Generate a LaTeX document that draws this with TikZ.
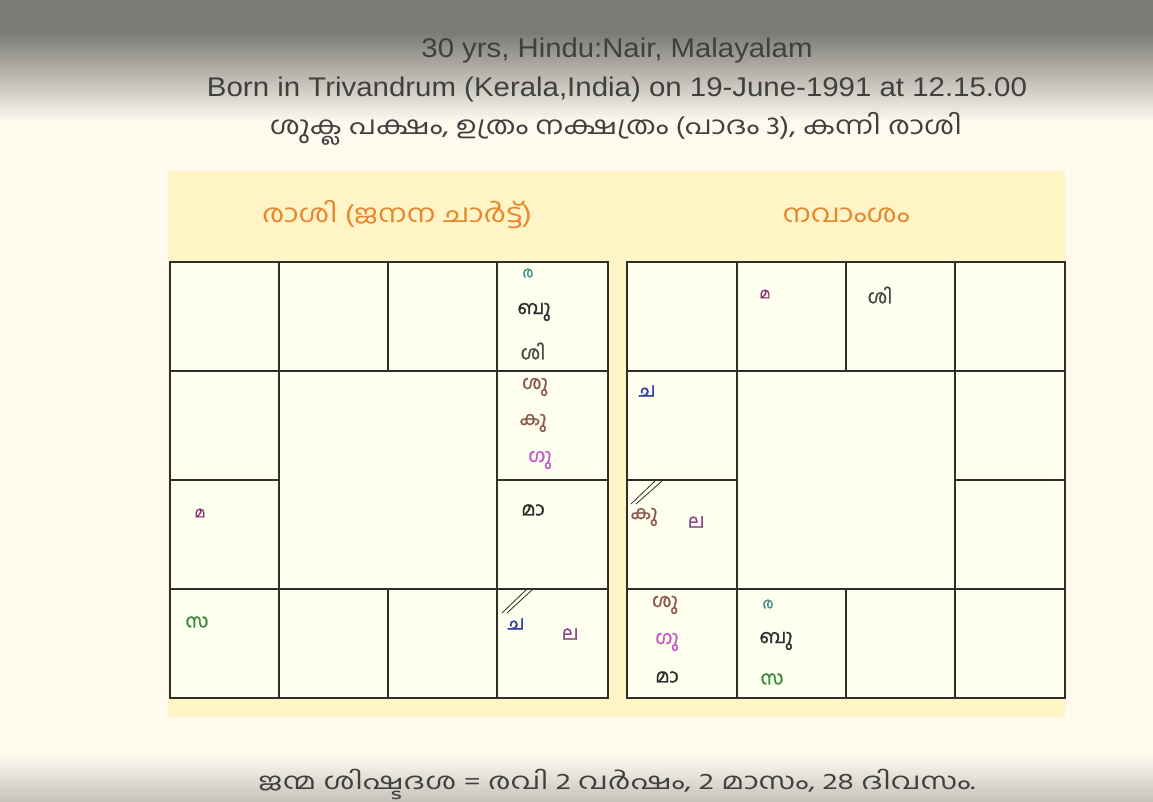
\documentclass[tikz,border=0pt]{standalone}
\usepackage{fontspec}
\setmainfont{Liberation Sans}
\newfontfamily\mal[Script=Malayalam]{Hind Kochi}
\newfontfamily\malb[Script=Malayalam,FakeBold=1.2]{Hind Kochi}
\newfontfamily\hdr[FakeStretch=0.85]{Liberation Sans}
\definecolor{bg}{HTML}{FEFAEE}
\definecolor{topgray}{HTML}{7B7A75}
\definecolor{botgray}{HTML}{C5C3BC}
\definecolor{panel}{HTML}{FFF4C6}
\definecolor{cellfill}{HTML}{FFFFF0}
\definecolor{gridc}{HTML}{2E2E2A}
\definecolor{txt}{HTML}{404040}
\definecolor{orng}{HTML}{E8862C}
\definecolor{cteal}{HTML}{3E8C84}
\definecolor{cdark}{HTML}{2E2E2E}
\definecolor{cgray}{HTML}{4A4A4A}
\definecolor{cbrown}{HTML}{8C5A4C}
\definecolor{cpink}{HTML}{C65AC6}
\definecolor{cpurple}{HTML}{8A2E6E}
\definecolor{cgreen}{HTML}{3C8A3C}
\definecolor{cblue}{HTML}{3444A4}
\definecolor{clav}{HTML}{8A4684}
\tikzset{
  gridline/.style={draw=gridc, line width=1.8pt},
  hdrtext/.style={inner sep=0pt, anchor=base, text=txt},
  title/.style={inner sep=0pt, anchor=center, text=orng, font=\mal\fontsize{25}{28}\selectfont},
  planet/.style={inner sep=0pt, anchor=center, font=\malb\fontsize{19}{22}\selectfont},
  small/.style={inner sep=0pt, anchor=center, font=\malb\fontsize{15}{17}\selectfont},
  slash/.style={draw=gridc, line width=0.8pt},
}
\begin{document}
\begin{tikzpicture}[x=1pt,y=-1pt]
\useasboundingbox (0,0) rectangle (1153,801);
\fill[bg] (0,0) rectangle (1153,801);
\fill[topgray] (0,0) rectangle (1153,32);
\shade[top color=topgray, bottom color=bg] (0,32) rectangle (1153,122);
\shade[top color=bg, bottom color=botgray] (0,756) rectangle (1153,801);
% header texts
\node[hdrtext, font=\hdr\fontsize{27}{30}\selectfont] (l1) at (617,57) {\resizebox{391pt}{\height}{30 yrs, Hindu:Nair, Malayalam}};
\node[hdrtext, font=\hdr\fontsize{27}{30}\selectfont] (l2) at (617,96) {\resizebox{820pt}{\height}{Born in Trivandrum (Kerala,India) on 19-June-1991 at 12.15.00}};
\node[hdrtext, font=\mal\fontsize{25}{28}\selectfont] (l3) at (616,134) {\resizebox{692pt}{\height}{ശുക്ല പക്ഷം, ഉത്രം നക്ഷത്രം (പാദം 3), കന്നി രാശി}};
% panel
\fill[panel] (168,171) rectangle (1065,717);
\node[title] (t1) at (397,215) {\resizebox{270pt}{\height}{രാശി (ജനന ചാർട്ട്)}};
\node[title] (t2) at (846,215) {\resizebox{127pt}{\height}{നവാംശം}};
% left chart
\begin{scope}
\fill[cellfill] (170,262) rectangle (608,698);
\draw[gridline] (170,262) rectangle (608,698);
\draw[gridline] (170,371) -- (608,371);
\draw[gridline] (170,589) -- (608,589);
\draw[gridline] (170,480) -- (279,480);
\draw[gridline] (497,480) -- (608,480);
\draw[gridline] (279,262) -- (279,698);
\draw[gridline] (497,262) -- (497,698);
\draw[gridline] (388,262) -- (388,371);
\draw[gridline] (388,589) -- (388,698);
\end{scope}
% right chart
\begin{scope}
\fill[cellfill] (627,262) rectangle (1065,698);
\draw[gridline] (627,262) rectangle (1065,698);
\draw[gridline] (627,371) -- (1065,371);
\draw[gridline] (627,589) -- (1065,589);
\draw[gridline] (627,480) -- (737,480);
\draw[gridline] (955,480) -- (1065,480);
\draw[gridline] (737,262) -- (737,698);
\draw[gridline] (955,262) -- (955,698);
\draw[gridline] (846,262) -- (846,371);
\draw[gridline] (846,589) -- (846,698);
\end{scope}
% left chart planets
\node[small, text=cteal] (a1) at (528,273) {ര};
\node[planet, text=cdark] (a2) at (534,312) {ബു};
\node[planet, text=cgray] (a3) at (533,351) {ശി};
\node[planet, text=cbrown] (a4) at (535,387) {ശു};
\node[planet, text=cbrown] (a5) at (533,423) {കു};
\node[planet, text=cpink] (a6) at (540,460) {ഗു};
\node[small, text=cpurple] (a7) at (200,513) {മ};
\node[planet, text=cdark] (a8) at (533,510) {മാ};
\node[planet, text=cgreen] (a9) at (197,622) {സ};
\node[planet, text=cblue] (a10) at (516,624) {ച};
\node[planet, text=clav] (a11) at (570,634) {ല};
\draw[slash] (502,613) -- (527,589);
\draw[slash] (507,613) -- (533,589);
% right chart planets
\node[small, text=cpurple] (b1) at (765,294) {മ};
\node[planet, text=cgray] (b2) at (880,295) {ശി};
\node[planet, text=cblue] (b3) at (647,391) {ച};
\node[planet, text=cbrown] (b4) at (644,517) {കു};
\node[planet, text=clav] (b5) at (696,522) {ല};
\node[planet, text=cbrown] (b6) at (665,605) {ശു};
\node[planet, text=cpink] (b7) at (667,642) {ഗു};
\node[planet, text=cdark] (b8) at (667,677) {മാ};
\node[small, text=cteal] (b9) at (768,604) {ര};
\node[planet, text=cdark] (b10) at (776,641) {ബു};
\node[planet, text=cgreen] (b11) at (772,679) {സ};
\draw[slash] (631,504) -- (655,481);
\draw[slash] (636,504) -- (662,481);
% bottom text
\node[hdrtext, font=\mal\fontsize{23}{26}\selectfont] (l4) at (617,789) {\resizebox{717pt}{\height}{ജന്മ ശിഷ്ടദശ = രവി 2 വർഷം, 2 മാസം, 28 ദിവസം.}};
\end{tikzpicture}
\end{document}
